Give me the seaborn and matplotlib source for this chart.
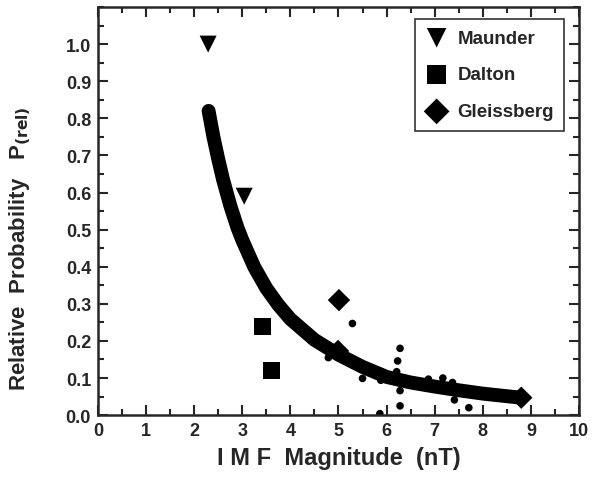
import pandas as pd
import seaborn as sns
import matplotlib.pyplot as plt
from matplotlib.ticker import MultipleLocator

# Data
fit_x = [2.3, 2.4, 2.5, 2.6, 2.75, 2.9, 3.0, 3.25, 3.5, 3.75, 4.0, 4.5, 5.0, 5.5, 6.0, 6.5, 7.0,
         7.5, 8.0, 8.5, 8.8]
fit_y = [0.82, 0.75, 0.69, 0.635, 0.565, 0.505, 0.472, 0.399, 0.342, 0.297, 0.259, 0.203, 0.163,
         0.130, 0.103, 0.088, 0.077, 0.067, 0.058, 0.051, 0.047]

dots_x = [4.79, 5.29, 5.50, 5.88, 6.21, 6.23, 6.28, 6.28, 6.28, 6.87, 7.17, 7.37, 7.41, 7.71, 5.86]
dots_y = [0.155, 0.247, 0.099, 0.094, 0.117, 0.146, 0.180, 0.066, 0.025, 0.097, 0.100, 0.088,
          0.041, 0.020, 0.004]

maunder_x = [2.29, 3.04]
maunder_y = [1.0, 0.59]
dalton_x = [3.42, 3.61]
dalton_y = [0.24, 0.12]
gleissberg_x = [5.01, 4.99, 8.8]
gleissberg_y = [0.31, 0.173, 0.047]

sns.set_style("ticks")
plt.rcParams['font.family'] = ['Liberation Sans', 'DejaVu Sans']
plt.rcParams['font.weight'] = 'bold'

fig = plt.figure(figsize=(5.92, 4.85), dpi=100)
ax = fig.add_axes([0.1655, 0.142, 0.8125, 0.8415])

fit = pd.DataFrame({'x': fit_x, 'y': fit_y})
sns.lineplot(data=fit, x='x', y='y', ax=ax, color='black', linewidth=10,
             solid_capstyle='round', solid_joinstyle='round', sort=False)

sns.scatterplot(x=dots_x, y=dots_y, ax=ax, color='black', s=30, edgecolor='none')
sns.scatterplot(x=maunder_x, y=maunder_y, ax=ax, color='black', marker='v', s=150,
                edgecolor='none', label='Maunder')
sns.scatterplot(x=dalton_x, y=dalton_y, ax=ax, color='black', marker='s', s=150,
                edgecolor='none', label='Dalton')
sns.scatterplot(x=gleissberg_x, y=gleissberg_y, ax=ax, color='black', marker='D', s=130,
                edgecolor='none', label='Gleissberg')

ax.set_xlim(0, 10)
ax.set_ylim(0, 1.1)
ax.xaxis.set_major_locator(MultipleLocator(1))
ax.xaxis.set_minor_locator(MultipleLocator(0.5))
ax.yaxis.set_major_locator(MultipleLocator(0.1))
ax.yaxis.set_minor_locator(MultipleLocator(0.05))
ax.set_yticks([i / 10 for i in range(11)])
ax.set_yticklabels([f"{i / 10:.1f}" for i in range(11)])
ax.tick_params(which='both', direction='in', top=True, right=True, width=1.5, labelsize=13)
ax.tick_params(which='major', length=7, pad=5)
ax.tick_params(which='minor', length=4)
for s in ax.spines.values():
    s.set_linewidth(1.8)

ax.set_xlabel('I M F  Magnitude  (nT)', fontsize=17, fontweight='bold', labelpad=5)
ax.set_ylabel(r'Relative  Probability   P$_{\mathbf{(rel)}}$', fontsize=16, fontweight='bold')
ax.yaxis.set_label_coords(-0.135, 0.41)

leg = ax.legend(loc='upper right', frameon=True, fancybox=False, fontsize=13.5,
                markerscale=1.15, handletextpad=0.5, labelspacing=1.05, borderpad=0.55,
                handlelength=1.2, borderaxespad=0, bbox_to_anchor=(0.969, 0.97))
leg.get_frame().set_edgecolor('black')
leg.get_frame().set_linewidth(1.2)

plt.savefig('out.png', dpi=100)
